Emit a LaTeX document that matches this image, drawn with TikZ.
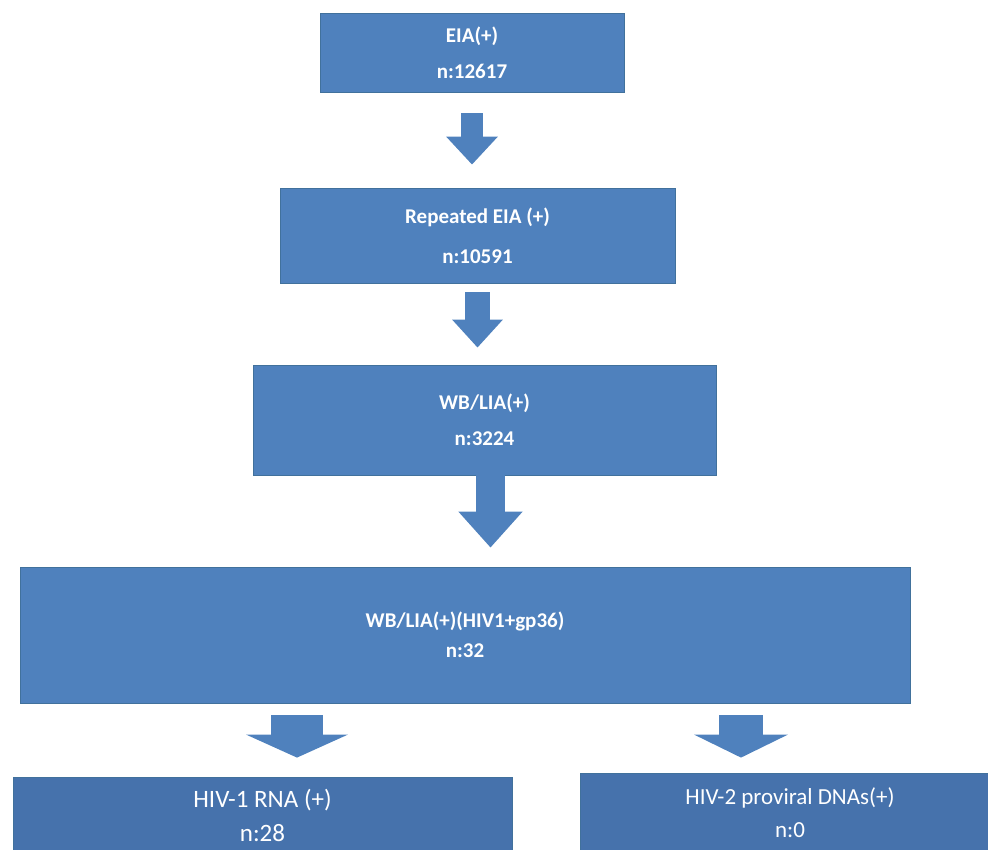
\documentclass[tikz,border=0pt]{standalone}
\usepackage{fontspec}
\setmainfont{Carlito}
\usepackage{tikz}
\usetikzlibrary{arrows.meta}

\definecolor{boxblue}{HTML}{4F81BD}
\definecolor{lowblue}{HTML}{4672AC}
\definecolor{edgeblue}{HTML}{41719C}

\begin{document}
\begin{tikzpicture}[x=1pt, y=-1pt,
    box/.style={draw=edgeblue, fill=boxblue, line width=0.8pt, text=white, align=center,
        inner sep=0pt, font=\fontsize{21}{36}\selectfont\bfseries},
    lowbox/.style={box, fill=lowblue, font=\fontsize{23}{33}\selectfont},
    flow/.style={draw=boxblue, line width=#1}]
    \clip (0, 0) rectangle (988, 850);

    \node[box, minimum width=304pt, minimum height=79pt] at (472, 52.5) (b1) {EIA(+)\\n:12617};
    \node[box, minimum width=395pt, minimum height=95pt, font=\fontsize{21}{40}\selectfont\bfseries] at (477.5, 235.5) (b2) {Repeated EIA (+)\\n:10591};
    \node[box, minimum width=463pt, minimum height=110pt] at (484.5, 420) (b3) {WB/LIA(+)\\n:3224};
    \node[box, minimum width=890pt, minimum height=136pt, font=\fontsize{21}{30}\selectfont\bfseries] at (465, 635) (b4) {WB/LIA(+)(HIV1+gp36)\\n:32};

    \node[lowbox, minimum width=499pt, minimum height=76pt, font=\fontsize{25}{34}\selectfont] at (262.5, 815) (b5) {HIV-1 RNA (+)\\n:28};
    \node[lowbox, minimum width=420pt, minimum height=79pt] at (790, 812.5) (b6) {HIV-2 proviral DNAs(+)\\n:0};

    \coordinate (a3) at ([xshift=6pt]b3.south);
    \coordinate (a4) at ([xshift=-168pt]b4.south);
    \coordinate (a5) at ([xshift=276pt]b4.south);

    \draw[flow=22pt, -{Triangle[width=50pt, length=28pt]}, shorten <=21pt, shorten >=23pt] (b1.south) -- (b1.south |- b2.north);
    \draw[flow=25pt, -{Triangle[width=49pt, length=28pt]}, shorten <=9pt, shorten >=17pt] (b2.south) -- (b2.south |- b3.north);
    \draw[flow=29pt, -{Triangle[width=62pt, length=36pt]}, shorten >=19pt] (a3) -- (a3 |- b4.north);
    \draw[flow=52pt, -{Triangle[width=101pt, length=23pt]}, shorten <=12pt, shorten >=19pt] (a4) -- (a4 |- b5.north);
    \draw[flow=44pt, -{Triangle[width=93pt, length=23pt]}, shorten <=12pt, shorten >=15pt] (a5) -- (a5 |- b6.north);
\end{tikzpicture}
\end{document}
